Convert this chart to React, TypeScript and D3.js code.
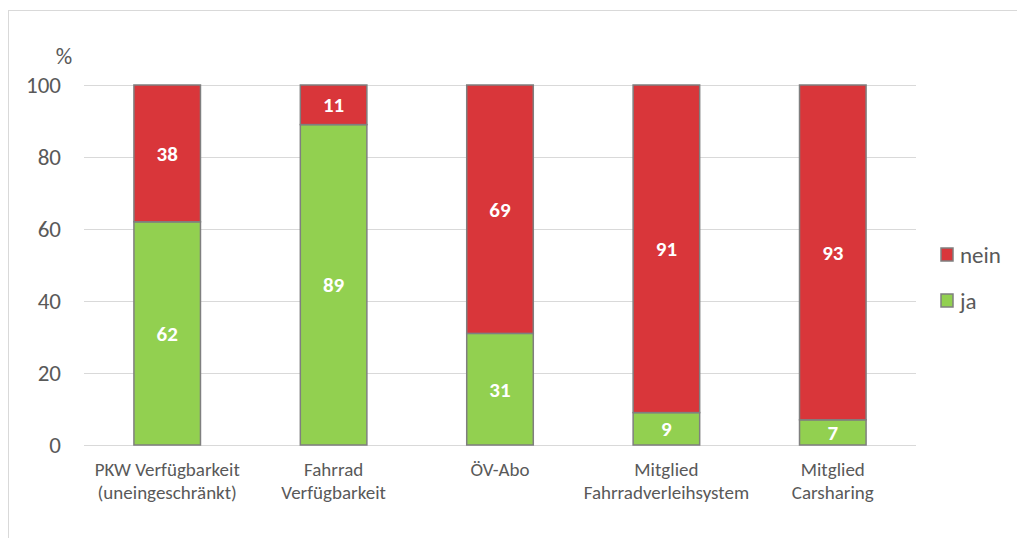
import { useEffect, useRef } from "react";
import * as d3 from "d3";

const categories = [
  ["PKW Verfügbarkeit", "(uneingeschränkt)"],
  ["Fahrrad", "Verfügbarkeit"],
  ["ÖV-Abo"],
  ["Mitglied", "Fahrradverleihsystem"],
  ["Mitglied", "Carsharing"],
];
const ja = [62, 89, 31, 9, 7];
const nein = [38, 11, 69, 91, 93];
const yTicks = [0, 20, 40, 60, 80, 100];

const RED = "#D9363A";
const GREEN = "#92D050";
const TEXT = "#595959";
const FONT = "Carlito, Calibri, 'Liberation Sans', sans-serif";

const App = () => {
  const svgRef = useRef<SVGSVGElement | null>(null);

  useEffect(() => {
    if (!svgRef.current) return;
    const svg = d3.select(svgRef.current);
    svg.selectAll("*").remove();

    const left = 84, right = 916, top = 85, bottom = 445;

    // frame
    svg.append("rect")
      .attr("x", 8.5).attr("y", 10.5)
      .attr("width", 1100).attr("height", 600)
      .attr("fill", "white")
      .attr("stroke", "#d9d9d9");

    const x = d3.scaleBand<number>()
      .domain(d3.range(categories.length))
      .range([left, right])
      .paddingInner(0.6)
      .paddingOuter(0.3);

    const y = d3.scaleLinear().domain([0, 100]).range([bottom, top]);

    // gridlines
    svg.append("g")
      .selectAll("line")
      .data(yTicks)
      .join("line")
      .attr("x1", left).attr("x2", right)
      .attr("y1", d => Math.round(y(d)) + 0.5)
      .attr("y2", d => Math.round(y(d)) + 0.5)
      .attr("stroke", "#d9d9d9");

    // y labels
    svg.append("g")
      .selectAll("text")
      .data(yTicks)
      .join("text")
      .attr("x", 61)
      .attr("y", d => y(d))
      .attr("dy", "0.35em")
      .attr("text-anchor", "end")
      .attr("font-family", FONT)
      .attr("font-size", 23)
      .attr("fill", TEXT)
      .text(d => d);

    svg.append("text")
      .attr("x", 64).attr("y", 64)
      .attr("text-anchor", "middle")
      .attr("font-family", FONT)
      .attr("font-size", 23)
      .attr("fill", TEXT)
      .text("%");

    // bars
    const bars = svg.append("g");
    categories.forEach((_, i) => {
      const bx = x(i)!;
      const w = x.bandwidth();
      bars.append("rect")
        .attr("x", bx).attr("y", y(ja[i]))
        .attr("width", w).attr("height", y(0) - y(ja[i]))
        .attr("fill", GREEN).attr("stroke", "#7f7f7f").attr("stroke-width", 1.5);
      bars.append("rect")
        .attr("x", bx).attr("y", y(ja[i] + nein[i]))
        .attr("width", w).attr("height", y(ja[i]) - y(ja[i] + nein[i]))
        .attr("fill", RED).attr("stroke", "#7f7f7f").attr("stroke-width", 1.5);

      const cx = bx + w / 2;
      [
        [ja[i], ja[i] / 2],
        [nein[i], ja[i] + nein[i] / 2],
      ].forEach(([v, mid]) => {
        bars.append("text")
          .attr("x", cx).attr("y", y(mid))
          .attr("dy", "0.35em")
          .attr("text-anchor", "middle")
          .attr("font-family", FONT)
          .attr("font-size", 21)
          .attr("font-weight", "bold")
          .attr("fill", "white")
          .text(v);
      });

      const label = svg.append("text")
        .attr("text-anchor", "middle")
        .attr("font-family", FONT)
        .attr("font-size", 19)
        .attr("fill", TEXT);
      categories[i].forEach((line, j) => {
        label.append("tspan")
          .attr("x", cx)
          .attr("y", 476 + j * 23)
          .text(line);
      });
    });

    // legend
    const legend = [["nein", RED], ["ja", GREEN]];
    legend.forEach(([name, color], i) => {
      const ly = 248 + i * 46;
      svg.append("rect")
        .attr("x", 941).attr("y", ly)
        .attr("width", 12).attr("height", 13)
        .attr("fill", color).attr("stroke", "#7f7f7f").attr("stroke-width", 1.5);
      svg.append("text")
        .attr("x", 960).attr("y", ly + 6.5)
        .attr("dy", "0.35em")
        .attr("font-family", FONT)
        .attr("font-size", 23)
        .attr("fill", TEXT)
        .text(name);
    });
  }, []);

  return (
    <svg
      ref={svgRef}
      width={1017}
      height={538}
      style={{ position: "absolute", left: 0, top: 0 }}
    />
  );
};

export default App;
